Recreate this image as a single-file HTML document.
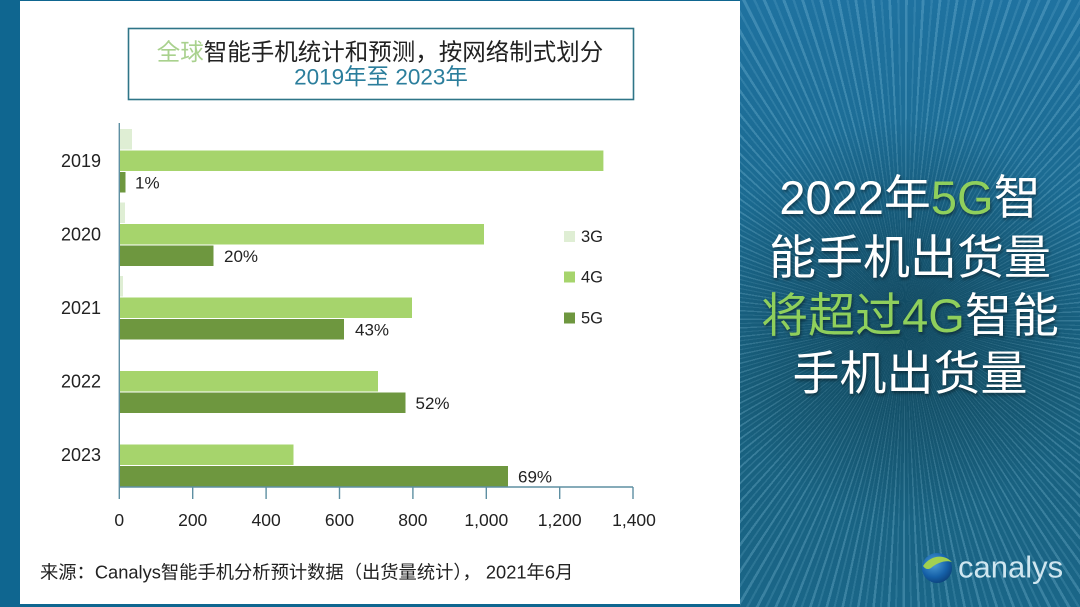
<!DOCTYPE html>
<html>
<head>
<meta charset="utf-8">
<style>
  html,body{margin:0;padding:0;}
  body{width:1080px;height:607px;position:relative;overflow:hidden;background:#0f6690;
       font-family:"Liberation Sans","Noto Sans CJK SC",sans-serif;}
  .left{position:absolute;left:20px;top:1px;width:720px;height:603px;background:#ffffff;}
  .right{position:absolute;left:740px;top:0;width:340px;height:607px;
    background:
      radial-gradient(circle at 165px 320px, rgba(14,60,78,0.65) 0px, rgba(14,60,78,0.35) 100px, rgba(14,60,78,0) 200px),
      repeating-conic-gradient(from 0deg at 165px 320px, rgba(150,210,235,0.26) 0deg 0.5deg, rgba(0,0,0,0) 0.5deg 1.6deg, rgba(150,210,235,0.15) 1.6deg 2.0deg, rgba(0,0,0,0) 2.0deg 3.0deg),
      linear-gradient(180deg,#1f72a0 0%,#1b6a90 35%,#185f7c 65%,#1a6688 100%);}
  .rt{position:absolute;left:740px;width:340px;text-align:center;color:#ffffff;font-size:47px;
      line-height:58px;height:58px;white-space:nowrap;text-shadow:1px 2px 3px rgba(0,0,0,0.45);
      font-family:"Liberation Sans","Noto Sans CJK SC",sans-serif;}
  .g{color:#8fcf5c;}
</style>
</head>
<body>
<div class="left"></div>
<div class="right"></div>

<div class="rt" style="top:169px;">2022年<span class="g">5G</span>智</div>
<div class="rt" style="top:229px;">能手机出货量</div>
<div class="rt" style="top:287px;"><span class="g">将超过4G</span>智能</div>
<div class="rt" style="top:345px;">手机出货量</div>

<svg width="1080" height="607" viewBox="0 0 1080 607" style="position:absolute;left:0;top:0;"
     xmlns="http://www.w3.org/2000/svg" font-family="Liberation Sans, Noto Sans CJK SC, sans-serif">
  <defs>
    <radialGradient id="globe" cx="0.4" cy="0.35" r="0.75">
      <stop offset="0" stop-color="#4fa0d8"/>
      <stop offset="0.6" stop-color="#1560a8"/>
      <stop offset="1" stop-color="#0a3a70"/>
    </radialGradient>
  </defs>

  <!-- Title box -->
  <rect x="128.5" y="28.5" width="505" height="71" fill="#ffffff" stroke="#2f7588" stroke-width="1.6"/>
  <text x="380" y="52" text-anchor="middle" dominant-baseline="central" font-size="23.5" fill="#222222"><tspan fill="#a9d18e">全球</tspan>智能手机统计和预测，按网络制式划分</text>
  <text x="381" y="77" text-anchor="middle" dominant-baseline="central" font-size="22.5" fill="#2b7e9c">2019年至 2023年</text>

  <!-- Bars -->
  <g>
    <rect x="120" y="129" width="12" height="20.5" fill="#dfeed4"/>
    <rect x="120" y="150.5" width="483.4" height="20.5" fill="#a6d46c"/>
    <rect x="120" y="172" width="5.5" height="20.5" fill="#6e973f"/>
    <rect x="120" y="202.5" width="5" height="20.5" fill="#dfeed4"/>
    <rect x="120" y="224" width="364" height="20.5" fill="#a6d46c"/>
    <rect x="120" y="245.5" width="93.5" height="20.5" fill="#6e973f"/>
    <rect x="120" y="276" width="3" height="20.5" fill="#dfeed4"/>
    <rect x="120" y="297.5" width="292" height="20.5" fill="#a6d46c"/>
    <rect x="120" y="319" width="224" height="20.5" fill="#6e973f"/>
    <rect x="120" y="371" width="258" height="20.5" fill="#a6d46c"/>
    <rect x="120" y="392.5" width="285.5" height="20.5" fill="#6e973f"/>
    <rect x="120" y="444.5" width="173.5" height="20.5" fill="#a6d46c"/>
    <rect x="120" y="466" width="388" height="20.5" fill="#6e973f"/>
  </g>

  <!-- Axes -->
  <g stroke="#5e8fa2" stroke-width="1.4" fill="none">
    <line x1="119.3" y1="123" x2="119.3" y2="487"/>
    <line x1="119.3" y1="487" x2="633" y2="487"/>
    <line x1="119.3" y1="487" x2="119.3" y2="499"/>
    <line x1="192.7" y1="487" x2="192.7" y2="499"/>
    <line x1="266.1" y1="487" x2="266.1" y2="499"/>
    <line x1="339.5" y1="487" x2="339.5" y2="499"/>
    <line x1="412.9" y1="487" x2="412.9" y2="499"/>
    <line x1="486.3" y1="487" x2="486.3" y2="499"/>
    <line x1="559.7" y1="487" x2="559.7" y2="499"/>
    <line x1="633" y1="487" x2="633" y2="499"/>
  </g>

  <!-- Tick labels -->
  <g font-size="17.5" fill="#222222" text-anchor="middle">
    <text x="119.3" y="520" dominant-baseline="central">0</text>
    <text x="192.7" y="520" dominant-baseline="central">200</text>
    <text x="266.1" y="520" dominant-baseline="central">400</text>
    <text x="339.5" y="520" dominant-baseline="central">600</text>
    <text x="412.9" y="520" dominant-baseline="central">800</text>
    <text x="486.3" y="520" dominant-baseline="central">1,000</text>
    <text x="559.7" y="520" dominant-baseline="central">1,200</text>
    <text x="634" y="520" dominant-baseline="central">1,400</text>
  </g>

  <!-- Year labels -->
  <g font-size="18" fill="#222222" text-anchor="end">
    <text x="101" y="161" dominant-baseline="central">2019</text>
    <text x="101" y="234.5" dominant-baseline="central">2020</text>
    <text x="101" y="308" dominant-baseline="central">2021</text>
    <text x="101" y="381.5" dominant-baseline="central">2022</text>
    <text x="101" y="455" dominant-baseline="central">2023</text>
  </g>

  <!-- Percent labels -->
  <g font-size="17" fill="#222222">
    <text x="135" y="183" dominant-baseline="central">1%</text>
    <text x="224" y="256.5" dominant-baseline="central">20%</text>
    <text x="355" y="330" dominant-baseline="central">43%</text>
    <text x="415.5" y="403.5" dominant-baseline="central">52%</text>
    <text x="518" y="477" dominant-baseline="central">69%</text>
  </g>

  <!-- Legend -->
  <rect x="564" y="231" width="11" height="11" fill="#dfeed4"/>
  <rect x="564" y="271.5" width="11" height="11" fill="#a6d46c"/>
  <rect x="564" y="312.5" width="11" height="11" fill="#6e973f"/>
  <g font-size="16.5" fill="#222222">
    <text x="581" y="237" dominant-baseline="central">3G</text>
    <text x="581" y="277.5" dominant-baseline="central">4G</text>
    <text x="581" y="318.5" dominant-baseline="central">5G</text>
  </g>

  <!-- Footer -->
  <text x="40" y="572" dominant-baseline="central" font-size="18.3" fill="#222222">来源：Canalys智能手机分析预计数据（出货量统计）， 2021年6月</text>

  <!-- Canalys logo -->
  <circle cx="937" cy="568" r="15" fill="url(#globe)"/>
  <path d="M923 566 C930 556, 943 553, 952 562 C946 560, 938 562, 931 568 C928 570, 925 569, 923 566 Z" fill="#a8d44a" opacity="0.95"/>
  <text x="958" y="567" dominant-baseline="central" font-size="31" fill="#cfe6f0">canalys</text>
</svg>
</body>
</html>
